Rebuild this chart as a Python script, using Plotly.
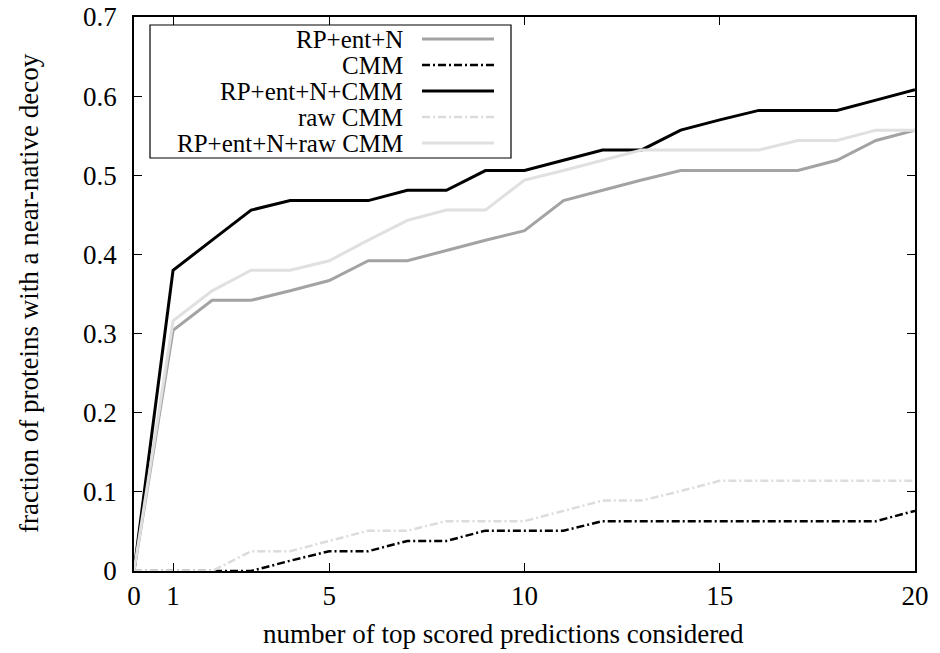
import plotly.graph_objects as go

x_vals = list(range(0, 21))

rp_ent_n = [0, 0.304, 0.342, 0.342, 0.354, 0.367, 0.392, 0.392, 0.405, 0.418, 0.430,
            0.468, 0.481, 0.494, 0.506, 0.506, 0.506, 0.506, 0.519, 0.544, 0.557]
cmm = [0, 0, 0, 0, 0.013, 0.025, 0.025, 0.038, 0.038, 0.051, 0.051,
       0.051, 0.063, 0.063, 0.063, 0.063, 0.063, 0.063, 0.063, 0.063, 0.076]
rp_ent_n_cmm = [0, 0.380, 0.418, 0.456, 0.468, 0.468, 0.468, 0.481, 0.481, 0.506, 0.506,
                0.519, 0.532, 0.532, 0.557, 0.570, 0.582, 0.582, 0.582, 0.595, 0.608]
raw_cmm = [0, 0, 0, 0.025, 0.025, 0.038, 0.051, 0.051, 0.063, 0.063, 0.063,
           0.076, 0.089, 0.089, 0.101, 0.114, 0.114, 0.114, 0.114, 0.114, 0.114]
rp_ent_n_raw_cmm = [0, 0.316, 0.354, 0.380, 0.380, 0.392, 0.418, 0.443, 0.456, 0.456, 0.494,
                    0.506, 0.519, 0.532, 0.532, 0.532, 0.532, 0.544, 0.544, 0.557, 0.557]

series_names = ["RP+ent+N", "CMM", "RP+ent+N+CMM", "raw CMM", "RP+ent+N+raw CMM"]
series_data = [rp_ent_n, cmm, rp_ent_n_cmm, raw_cmm, rp_ent_n_raw_cmm]

x_tickvals = [0, 1, 5, 10, 15, 20]
x_ticktext = ["0", "1", "5", "10", "15", "20"]
y_tickvals = [0, 0.1, 0.2, 0.3, 0.4, 0.5, 0.6, 0.7]
y_ticktext = ["0", "0.1", "0.2", "0.3", "0.4", "0.5", "0.6", "0.7"]

x_title = "number of top scored predictions considered"
y_title = "fraction of proteins with a near-native decoy"

DASHDOT = "8px,3px,2px,3px"
styles = [
    dict(color="#a3a3a3", width=3, dash="solid"),
    dict(color="#000000", width=2.5, dash=DASHDOT),
    dict(color="#000000", width=3, dash="solid"),
    dict(color="#dcdcdc", width=2.5, dash=DASHDOT),
    dict(color="#e0e0e0", width=3, dash="solid"),
]

FONT = "Liberation Serif"
FS = 27
FS_LEG = 25

fig = go.Figure()
for name, ys, st in zip(series_names, series_data, styles):
    fig.add_trace(go.Scatter(x=x_vals, y=ys, mode="lines", name=name,
                             line=st, showlegend=False))

L, R, T, B = 134, 25, 17, 82
W, H = 940, 653
pw, ph = W - L - R, H - T - B

def px2x(px):
    return (px - L) / pw

def py2y(py):
    return (H - B - py) / ph

shapes = []
annotations = []
shapes.append(dict(type="rect", xref="paper", yref="paper",
                   x0=px2x(150), x1=px2x(511), y0=py2y(158), y1=py2y(25),
                   line=dict(color="black", width=1.2), fillcolor="white", layer="above"))
row_y = [39, 65, 91, 117, 143]
for name, st, ry in zip(series_names, styles, row_y):
    annotations.append(dict(xref="paper", yref="paper", x=px2x(404), y=py2y(ry),
                            text=name, showarrow=False, xanchor="right", yanchor="middle",
                            height=24, valign="middle", borderpad=0,
                            font=dict(family=FONT, size=FS_LEG, color="black")))
    shapes.append(dict(type="line", xref="paper", yref="paper",
                       x0=px2x(422), x1=px2x(494), y0=py2y(ry), y1=py2y(ry),
                       line=dict(color=st["color"], width=st["width"], dash=st["dash"]),
                       layer="above"))

# axis titles
annotations.append(dict(xref="paper", yref="paper", x=px2x(503), y=py2y(634),
                        text=x_title, showarrow=False, xanchor="center", yanchor="middle",
                        font=dict(family=FONT, size=FS, color="black")))
annotations.append(dict(xref="paper", yref="paper", x=px2x(29), y=py2y(293),
                        text=y_title, showarrow=False, xanchor="center", yanchor="middle",
                        textangle=-90,
                        font=dict(family=FONT, size=FS, color="black")))

fig.update_layout(
    width=W, height=H,
    margin=dict(l=L, r=R, t=T, b=B),
    paper_bgcolor="white", plot_bgcolor="white",
    font=dict(family=FONT, size=FS, color="black"),
    shapes=shapes, annotations=annotations,
    showlegend=False,
)
fig.update_xaxes(range=[0, 20], tickvals=x_tickvals, ticktext=x_ticktext,
                 ticks="inside", ticklen=8, tickwidth=1.2, tickcolor="black",
                 showline=True, linecolor="black", linewidth=1.5, mirror="ticks",
                 showgrid=False, zeroline=False, automargin=False,
                 tickfont=dict(family=FONT, size=FS), ticklabelstandoff=0)
fig.update_yaxes(range=[0, 0.7], tickvals=y_tickvals, ticktext=y_ticktext,
                 ticks="inside", ticklen=8, tickwidth=1.2, tickcolor="black",
                 showline=True, linecolor="black", linewidth=1.5, mirror="ticks",
                 showgrid=False, zeroline=False, automargin=False,
                 tickfont=dict(family=FONT, size=FS), ticklabelstandoff=10)

fig.write_html("out.html")
